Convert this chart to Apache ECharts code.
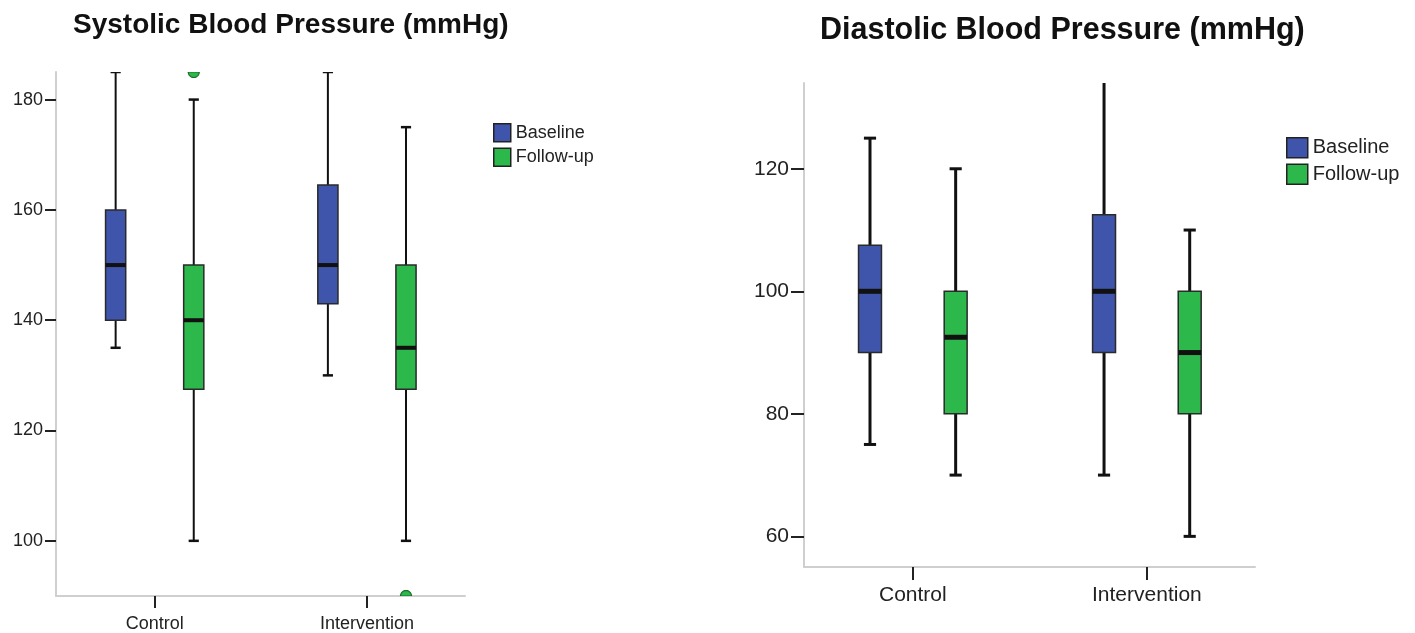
<!DOCTYPE html>
<html>
<head>
<meta charset="utf-8">
<script src="https://cdn.jsdelivr.net/npm/echarts@6/dist/echarts.min.js"></script>
<style>
html,body{margin:0;padding:0;background:#fff;}
#chart{width:1415px;height:633px;}
</style>
</head>
<body>
<div id="chart"></div>
<script>
// ---------- data ----------
const categories = ['Control', 'Intervention'];
const seriesNames = ['Baseline', 'Follow-up'];
// [min, Q1, median, Q3, max] per category
const systolicBaseline = [[135, 140, 150, 160, 185], [130, 143, 150, 164.5, 185]];
const systolicFollowup = [[100, 127.5, 140, 150, 180], [100, 127.5, 135, 150, 175]];
const systolicOutliersFollowup = [[0, 185], [1, 90]];
const diastolicBaseline = [[75, 90, 100, 107.5, 125], [70, 90, 100, 112.5, 135]];
const diastolicFollowup = [[70, 80, 92.5, 100, 120], [60, 80, 90, 100, 110]];
const systolicTicks = [100, 120, 140, 160, 180];
const diastolicTicks = [60, 80, 100, 120];

// ---------- styles ----------
const BLUE = '#3e55ab';
const GREEN = '#2cb84a';
const FONT = '"Liberation Sans", Arial, sans-serif';

function boxRender(side, st) {
  return function (params, api) {
    const x = api.value(0);
    const unit = api.size([1, 0])[0];
    const cx = api.coord([x, 0])[0] + side * st.offset * unit;
    const yMin = api.coord([x, api.value(1)])[1];
    const yQ1 = api.coord([x, api.value(2)])[1];
    const yMed = api.coord([x, api.value(3)])[1];
    const yQ3 = api.coord([x, api.value(4)])[1];
    const yMax = api.coord([x, api.value(5)])[1];
    const bw = st.box * unit;
    const cw = st.cap * unit;
    const color = api.visual('color');
    const line = (x1, y1, x2, y2, w) => ({
      type: 'line', shape: {x1, y1, x2, y2},
      style: {stroke: '#111', lineWidth: w}
    });
    return {
      type: 'group',
      children: [
        line(cx, yQ3, cx, yMax, st.whisker),
        line(cx, yQ1, cx, yMin, st.whisker),
        line(cx - cw / 2, yMax, cx + cw / 2, yMax, st.capW),
        line(cx - cw / 2, yMin, cx + cw / 2, yMin, st.capW),
        {type: 'rect', shape: {x: cx - bw / 2, y: yQ3, width: bw, height: yQ1 - yQ3},
          style: {fill: color, stroke: '#2a2a2a', lineWidth: 1.5}},
        line(cx - bw / 2, yMed, cx + bw / 2, yMed, st.median)
      ]
    };
  };
}
// outlier circle, cut to the plotting area
function outlierRender(side, st) {
  return function (params, api) {
    const x = api.value(0);
    const unit = api.size([1, 0])[0];
    const p = api.coord([x, api.value(1)]);
    const cs = params.coordSys;
    const cx = p[0] + side * st.offset * unit, cy = p[1], r = 5.5;
    const pts = [];
    for (let i = 0; i < 48; i++) {
      const a = i / 48 * Math.PI * 2;
      const py = Math.min(Math.max(cy + r * Math.sin(a), cs.y), cs.y + cs.height);
      pts.push([cx + r * Math.cos(a), py]);
    }
    return {
      type: 'polygon',
      shape: {points: pts},
      style: {fill: GREEN, stroke: '#1d6b2e', lineWidth: 1.2}
    };
  };
}
function toItems(arr) { return arr.map((d, i) => [i].concat(d)); }

const stL = {offset: 0.184, box: 0.095, cap: 0.048, whisker: 2, capW: 2.5, median: 4};
const stR = {offset: 0.183, box: 0.098, cap: 0.052, whisker: 3, capW: 3, median: 5};

function xAxis(gridIndex, fs, margin, tickLen) {
  return {
    type: 'value', gridIndex, min: -0.465, max: 1.462,
    splitLine: {show: false},
    axisLine: {show: true, onZero: false, lineStyle: {color: '#cfcfcf', width: 2}},
    axisTick: {show: true, customValues: [0, 1], length: tickLen, lineStyle: {color: '#222', width: 2}},
    axisLabel: {customValues: [0, 1], formatter: v => categories[v] || '', fontSize: fs,
      color: '#222', fontFamily: FONT, margin}
  };
}
function yAxis(gridIndex, min, max, ticks, fs, margin, tickLen) {
  return {
    type: 'value', gridIndex, min, max,
    splitLine: {show: false},
    axisLine: {show: true, onZero: false, lineStyle: {color: '#cfcfcf', width: 2}},
    axisTick: {show: true, customValues: ticks, length: tickLen, lineStyle: {color: '#222', width: 2}},
    axisLabel: {customValues: ticks, fontSize: fs, color: '#222', fontFamily: FONT, margin}
  };
}

const legendData = [
  {name: seriesNames[0], icon: 'rect', itemStyle: {color: BLUE, borderColor: '#222', borderWidth: 1.5}},
  {name: seriesNames[1], icon: 'rect', itemStyle: {color: GREEN, borderColor: '#222', borderWidth: 1.5}}
];

const option = {
  animation: false,
  backgroundColor: '#fff',
  title: [
    {text: 'Systolic Blood Pressure (mmHg)', left: 73, top: 11, padding: 0,
      textStyle: {fontSize: 28, fontWeight: 'bold', color: '#111', fontFamily: FONT}},
    {text: 'Diastolic Blood Pressure (mmHg)', left: 820, top: 15, padding: 0,
      textStyle: {fontSize: 30.5, fontWeight: 'bold', color: '#111', fontFamily: FONT}}
  ],
  legend: [
    {orient: 'vertical', left: 493, top: 123, padding: 0, itemWidth: 17, itemHeight: 18, itemGap: 5,
      selectedMode: false, data: legendData,
      textStyle: {fontSize: 18, color: '#222', fontFamily: FONT}},
    {orient: 'vertical', left: 1286, top: 137, padding: 0, itemWidth: 21, itemHeight: 20, itemGap: 5,
      selectedMode: false, data: legendData,
      textStyle: {fontSize: 20, color: '#222', fontFamily: FONT}}
  ],
  grid: [
    {left: 56, top: 72, width: 409, height: 529},
    {left: 804, top: 83, width: 451, height: 484}
  ],
  xAxis: [xAxis(0, 18, 19, 12), xAxis(1, 21, 18, 13)],
  yAxis: [yAxis(0, 90, 185, systolicTicks, 18, 13, 11), yAxis(1, 55, 134, diastolicTicks, 21, 15, 13)],
  series: [
    {name: seriesNames[0], type: 'custom', xAxisIndex: 0, yAxisIndex: 0, clip: true,
      itemStyle: {color: BLUE}, renderItem: boxRender(-1, stL), data: toItems(systolicBaseline)},
    {name: seriesNames[1], type: 'custom', xAxisIndex: 0, yAxisIndex: 0, clip: true,
      itemStyle: {color: GREEN}, renderItem: boxRender(1, stL), data: toItems(systolicFollowup)},
    {name: seriesNames[1], type: 'custom', xAxisIndex: 0, yAxisIndex: 0, clip: true,
      itemStyle: {color: GREEN}, renderItem: outlierRender(1, stL), data: systolicOutliersFollowup},
    {name: seriesNames[0], type: 'custom', xAxisIndex: 1, yAxisIndex: 1, clip: true,
      itemStyle: {color: BLUE}, renderItem: boxRender(-1, stR), data: toItems(diastolicBaseline)},
    {name: seriesNames[1], type: 'custom', xAxisIndex: 1, yAxisIndex: 1, clip: true,
      itemStyle: {color: GREEN}, renderItem: boxRender(1, stR), data: toItems(diastolicFollowup)}
  ]
};
const chart = echarts.init(document.getElementById('chart'), null, {renderer: 'canvas'});
chart.setOption(option);
</script>
</body>
</html>
